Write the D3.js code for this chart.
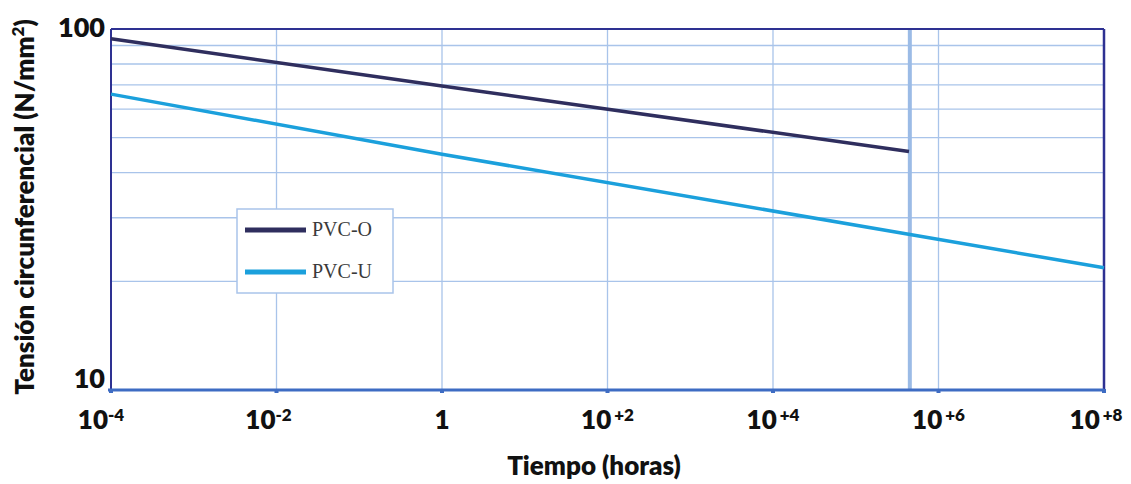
<!DOCTYPE html>
<html>
<head>
<meta charset="utf-8">
<script src="https://cdn.jsdelivr.net/npm/d3@7"></script>
<style>
  body { margin: 0; background: #fff; }
  text { font-family: Lato, "Open Sans", sans-serif; }
</style>
</head>
<body>
<script>
// data (hours vs N/mm2)
var seriesNames = ["PVC-O", "PVC-U"];
var pvcOHours = [1e-4, 1, 4.4e5];
var pvcOStress = [94, 69.5, 45.8];
var pvcUHours = [1e-4, 1, 1e8];
var pvcUStress = [66, 45, 21.8];
var xTickExp = [-4, -2, 0, 2, 4, 6, 8];
var xTickLabels = ["-4", "-2", "1", "+2", "+4", "+6", "+8"];
var yGridValues = [20, 30, 40, 50, 60, 70, 80, 90];
var yTickValues = [10, 100];
var fiftyYears = 50 * 365 * 24;

var width = 1131, height = 484;
var margin = {left: 111, right: 27, top: 29, bottom: 94};

var svg = d3.select("body").append("svg")
    .attr("width", width)
    .attr("height", height);

var x = d3.scaleLog().domain([1e-4, 1e8]).range([margin.left, width - margin.right]);
var y = d3.scaleLog().domain([10, 100]).range([height - margin.bottom, margin.top]);

var grid = "#a9c4ea";

// horizontal gridlines
svg.selectAll(".hgrid")
  .data(yGridValues)
  .enter().append("line")
    .attr("x1", x(1e-4)).attr("x2", x(1e8))
    .attr("y1", function (d) { return y(d); })
    .attr("y2", function (d) { return y(d); })
    .attr("stroke", grid).attr("stroke-width", 1.3);

// vertical gridlines
svg.selectAll(".vgrid")
  .data(xTickExp.slice(1, -1))
  .enter().append("line")
    .attr("x1", function (d) { return x(Math.pow(10, d)); })
    .attr("x2", function (d) { return x(Math.pow(10, d)); })
    .attr("y1", y(100)).attr("y2", y(10))
    .attr("stroke", grid).attr("stroke-width", 1.3);

// 50 years line
svg.append("line")
    .attr("x1", x(fiftyYears) + 1).attr("x2", x(fiftyYears) + 1)
    .attr("y1", y(100)).attr("y2", y(10))
    .attr("stroke", "#9bbbe6").attr("stroke-width", 4);

// frame
svg.append("line")
    .attr("x1", x(1e-4)).attr("x2", x(1e8))
    .attr("y1", y(100)).attr("y2", y(100))
    .attr("stroke", "#2e3192").attr("stroke-width", 2);
svg.append("line")
    .attr("x1", x(1e8)).attr("x2", x(1e8))
    .attr("y1", y(100)).attr("y2", y(10))
    .attr("stroke", "#2e3192").attr("stroke-width", 2.5);
svg.append("line")
    .attr("x1", x(1e-4)).attr("x2", x(1e-4))
    .attr("y1", y(100)).attr("y2", y(10))
    .attr("stroke", "#2e3192").attr("stroke-width", 2);
svg.append("line")
    .attr("x1", x(1e-4) - 3).attr("x2", x(1e8))
    .attr("y1", y(10)).attr("y2", y(10))
    .attr("stroke", "#3e6cc3").attr("stroke-width", 3);

// small square tick marks on x axis
svg.selectAll(".xmark")
  .data(xTickExp)
  .enter().append("rect")
    .attr("x", function (d) { return x(Math.pow(10, d)) - 2; })
    .attr("y", y(10) - 1)
    .attr("width", 4).attr("height", 4)
    .attr("fill", "#3e6cc3");

// series
var line = d3.line()
    .x(function (d) { return x(d[0]); })
    .y(function (d) { return y(d[1]); });

svg.append("path")
    .datum(d3.zip(pvcUHours, pvcUStress))
    .attr("d", line)
    .attr("fill", "none")
    .attr("stroke", "#1ba0dc")
    .attr("stroke-width", 3.5);

svg.append("path")
    .datum(d3.zip(pvcOHours, pvcOStress))
    .attr("d", line)
    .attr("fill", "none")
    .attr("stroke", "#2f2e5e")
    .attr("stroke-width", 3.5);

// x tick labels (first two and last sit a bit left of their tick in the original)
var xl = svg.selectAll(".xlab")
  .data(xTickExp)
  .enter().append("text")
    .attr("x", function (d) { return x(Math.pow(10, d)); })
    .attr("dx", function (d) { return d === -4 ? -10 : d === -2 ? -8 : d === 8 ? -8 : 0; })
    .attr("y", 429)
    .attr("text-anchor", "middle")
    .attr("font-size", 26)
    .attr("font-weight", 800)
    .attr("fill", "#111");

xl.each(function (d, i) {
  var t = d3.select(this);
  if (d === 0) { t.text("1"); return; }
  t.append("tspan").text("10");
  var s = xTickLabels[i];
  t.append("tspan")
    .attr("dy", -8)
    .attr("dx", s[0] === "+" ? 3 : 0)
    .attr("font-size", 17)
    .text(s[0] === "+" ? "+" + s.slice(1) : s);
});

// y tick labels
svg.selectAll(".ylab")
  .data(yTickValues)
  .enter().append("text")
    .attr("x", 105)
    .attr("y", function (d) { return y(d) + (d === 100 ? 8 : -2); })
    .attr("text-anchor", "end")
    .attr("font-size", 27)
    .attr("font-weight", 800)
    .attr("fill", "#111")
    .text(function (d) { return d; });

// axis titles
svg.append("text")
    .attr("x", 594).attr("y", 475)
    .attr("text-anchor", "middle")
    .attr("font-size", 26)
    .attr("font-weight", 800)
    .attr("fill", "#111")
    .text("Tiempo (horas)");

var yt = svg.append("text")
    .attr("transform", "translate(34,207) rotate(-90)")
    .attr("text-anchor", "middle")
    .attr("font-size", 26)
    .attr("font-weight", 800)
    .attr("fill", "#111");
yt.append("tspan").text("Tensión circunferencial (N/mm");
yt.append("tspan").attr("dy", -10).attr("font-size", 17).text("2");
yt.append("tspan").attr("dy", 10).text(")");

// legend
var legend = svg.append("g").attr("transform", "translate(237,209)");
legend.append("rect")
    .attr("width", 156).attr("height", 84)
    .attr("fill", "#fff")
    .attr("stroke", "#a9c4ea").attr("stroke-width", 1.5);
var legendColors = ["#2f2e5e", "#1ba0dc"];
seriesNames.forEach(function (name, i) {
  legend.append("line")
    .attr("x1", 8).attr("x2", 69)
    .attr("y1", 21 + i * 42).attr("y2", 21 + i * 42)
    .attr("stroke", legendColors[i]).attr("stroke-width", 5);
  legend.append("text")
    .attr("x", 75).attr("y", 27 + i * 42)
    .attr("font-size", 20)
    .attr("fill", "#3a3a3a")
    .style("font-family", "'Liberation Serif', serif")
    .text(name);
});
</script>
</body>
</html>
